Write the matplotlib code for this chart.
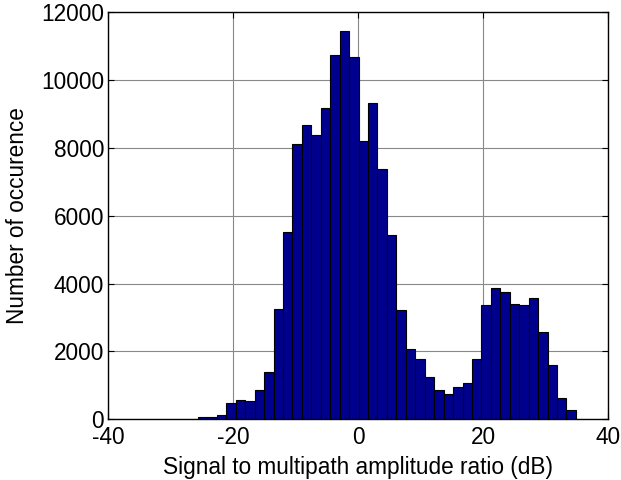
import numpy as np
import matplotlib
matplotlib.use("Agg")
import matplotlib.pyplot as plt

# histogram counts, 40 equal bins
counts = [70, 70, 120, 472, 560, 540, 865, 1396, 3264, 5534,
          8120, 8680, 8395, 9181, 10734, 11452, 10695, 8218, 9319, 7373,
          5426, 3224, 2064, 1769, 1239, 865, 747, 963, 1062, 1769,
          3372, 3873, 3755, 3401, 3372, 3588, 2585, 1602, 639, 285]
bin_lo = -25.65
bin_hi = 34.83

xticks = [-40, -20, 0, 20, 40]
yticks = [0, 2000, 4000, 6000, 8000, 10000, 12000]

plt.rcParams['font.family'] = ['Liberation Sans', 'DejaVu Sans']
plt.rcParams['axes.unicode_minus'] = False

fig = plt.figure(figsize=(6.21, 4.8), dpi=100)
ax = fig.add_axes([0.1744, 0.1265, 0.805, 0.8475])

edges = np.linspace(bin_lo, bin_hi, len(counts) + 1)
ax.bar(edges[:-1], counts, width=np.diff(edges), align='edge',
       color='#00008f', edgecolor='black', linewidth=0.8, zorder=2)

ax.set_xlim(-40, 40)
ax.set_ylim(0, 12000)
ax.set_xticks(xticks)
ax.set_yticks(yticks)
ax.grid(True, color='#888888', linewidth=0.8, zorder=0)
ax.set_axisbelow(True)
ax.tick_params(direction='in', top=True, right=True, length=4,
               labelsize=16.3, pad=3)
ax.tick_params(axis='x', pad=5)
for s in ax.spines.values():
    s.set_linewidth(1.0)

ax.set_xlabel('Signal to multipath amplitude ratio (dB)', fontsize=16.3, labelpad=5)
ax.set_ylabel('Number of occurence', fontsize=16.3, labelpad=9)

fig.savefig('out.png', dpi=100)
